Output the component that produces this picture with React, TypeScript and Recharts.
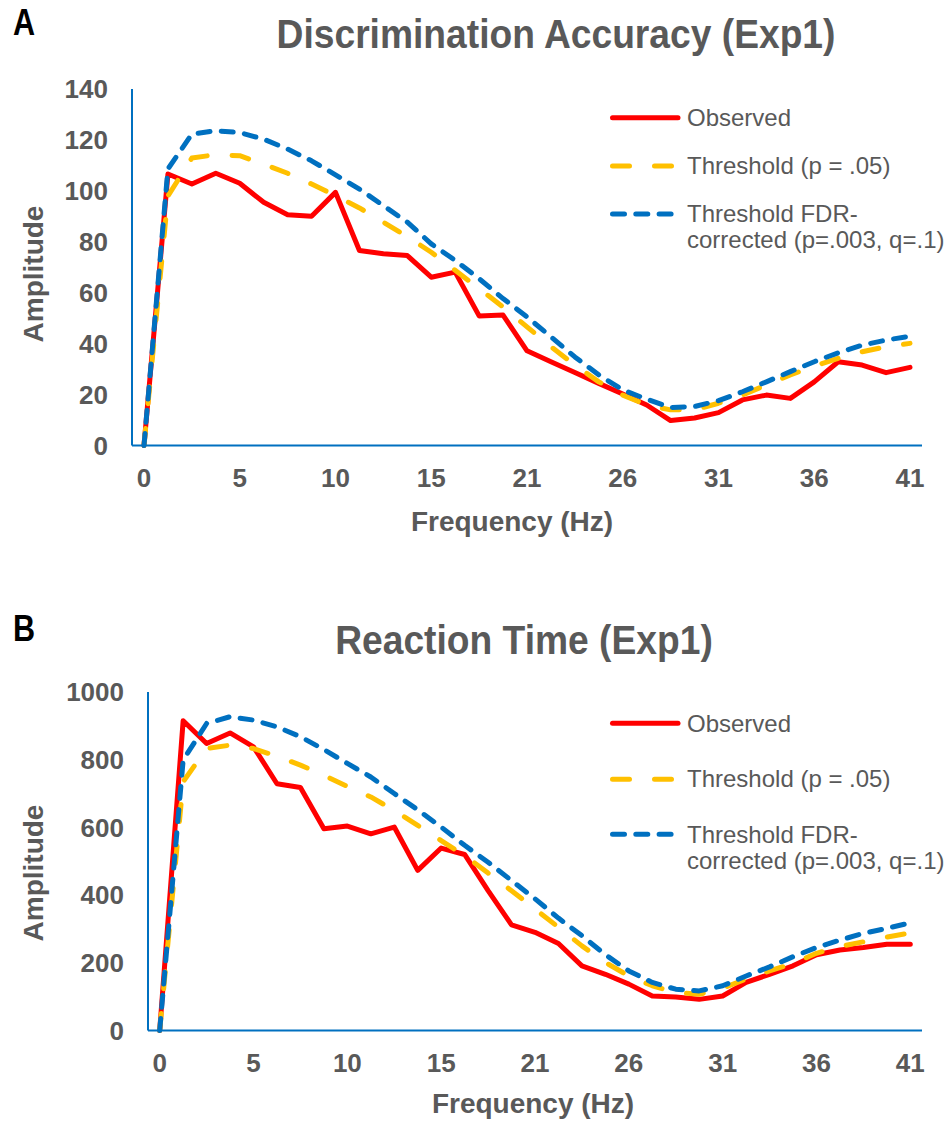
import { LineChart, Line, XAxis, YAxis, Legend } from 'recharts';

// frequency (Hz) of each spectral bin, rounded as on the axis
const hz = [0, 1, 3, 4, 5, 6, 8, 9, 10, 12, 13, 14, 15, 17, 18, 19, 21, 22, 23, 24, 26, 27, 28, 29, 31, 32, 33, 35, 36, 37, 38, 40, 41];

// panel A: discrimination accuracy
const accObserved = [0, 106.6, 102.7, 106.9, 103, 95.5, 90.6, 90.0, 99.4, 76.6, 75.3, 74.6, 66.1, 68.1, 50.9, 51.2, 37.2, 32.9, 28.7, 24.4, 20.2, 15.9, 9.8, 10.8, 12.9, 17.9, 19.8, 18.5, 25, 32.9, 31.6, 28.6, 30.7];
const accThreshold = [0, 98, 112.9, 114.2, 113.8, 110.5, 106.9, 102.7, 98.1, 93.3, 87.7, 82, 75.9, 68.8, 61.6, 54.4, 46.6, 38.8, 31.6, 25, 19.8, 15.9, 14, 14, 16.6, 19.8, 23.8, 27.7, 31.2, 34.2, 36.8, 38.8, 40.1];
const accFdr = [0, 108.6, 122.3, 123.6, 122.9, 120.3, 116.4, 111.8, 106.3, 100.7, 94.2, 87.7, 79.2, 72.7, 65.5, 57.7, 50.5, 42.7, 34.8, 27.7, 21.8, 18.2, 14.9, 15.3, 17.6, 21.1, 25, 29, 32.9, 36.4, 39.4, 41.4, 42.9];
const accTicks = [0, 20, 40, 60, 80, 100, 120, 140];

// panel B: reaction time
const rtObserved = [0, 915, 848, 879, 838, 729, 718, 596, 604, 581, 601, 473, 539, 520, 413, 312, 290, 257, 191, 166, 137, 102, 99, 92, 102, 142, 166, 191, 224, 238, 245, 255, 255];
const rtThreshold = [0, 735, 833, 843, 833, 810, 784, 754, 721, 690, 650, 606, 561, 517, 465, 413, 359, 305, 250, 201, 161, 132, 112, 107, 125, 152, 176, 198, 228, 248, 262, 276, 288];
const rtFdr = [0, 799, 907, 927, 917, 897, 868, 830, 789, 749, 700, 652, 601, 547, 497, 443, 389, 332, 280, 224, 176, 142, 122, 117, 132, 161, 188, 218, 245, 267, 287, 302, 318];
const rtTicks = [0, 200, 400, 600, 800, 1000];

const seriesNames = ['Observed', 'Threshold (p = .05)', 'Threshold FDR-', 'corrected (p=.003, q=.1)'];

const GREY = '#595959';
const AXIS = '#0070C0';
const RED = '#FF0000';
const GOLD = '#FFC000';
const BLUE = '#0070C0';
const FONT = '"Liberation Sans", Arial, sans-serif';
const LONG_DASH = '17 25';
const SHORT_DASH = '12 11.3';

const buildRows = (obs: number[], thr: number[], fdr: number[]) =>
  hz.map((h, i) => ({ hz: h, observed: obs[i], threshold: thr[i], fdr: fdr[i] }));

type LegendPos = { lines: number[]; baselines: number[] };

function LegendBox({ pos, height }: { pos: LegendPos; height: number }) {
  const x1 = 612.5;
  const x2 = 678;
  return (
    <svg width={948} height={height} style={{ position: 'absolute', left: 0, top: 0 }}>
      <line x1={x1} x2={x2} y1={pos.lines[0]} y2={pos.lines[0]} stroke={RED} strokeWidth={5} strokeLinecap="round" />
      <line x1={x1} x2={672} y1={pos.lines[1]} y2={pos.lines[1]} stroke={GOLD} strokeWidth={5} strokeLinecap="round" strokeDasharray={LONG_DASH} />
      <line x1={x1} x2={x2} y1={pos.lines[2]} y2={pos.lines[2]} stroke={BLUE} strokeWidth={5} strokeLinecap="round" strokeDasharray={SHORT_DASH} />
      {seriesNames.map((name, i) => (
        <text key={name} x={687} y={pos.baselines[i]} fontSize={24} fill={GREY} fontFamily={FONT}>
          {name}
        </text>
      ))}
    </svg>
  );
}

type PanelProps = {
  top: number;
  height: number;
  rows: ReturnType<typeof buildRows>;
  yMax: number;
  ticks: number[];
  yAxisWidth: number;
  marginTop: number;
  marginBottom: number;
  pad: number;
  legend: LegendPos;
};

function Panel(p: PanelProps) {
  const tickStyle = { fontSize: 26, fontWeight: 700, fill: GREY, fontFamily: FONT };
  return (
    <div style={{ position: 'absolute', left: 0, top: p.top }}>
      <LineChart width={948} height={p.height} data={p.rows}
        margin={{ top: p.marginTop, right: 26, bottom: p.marginBottom, left: 0 }}>
        <XAxis dataKey="hz" type="category" interval={3} height={60}
          axisLine={{ stroke: AXIS, strokeWidth: 2 }} tickLine={false} tickSize={6} tickMargin={17}
          tick={tickStyle} padding={{ left: p.pad, right: p.pad }} />
        <YAxis domain={[0, p.yMax]} ticks={p.ticks} width={p.yAxisWidth} interval={0}
          axisLine={{ stroke: AXIS, strokeWidth: 2 }} tickLine={false} tickSize={6} tickMargin={18}
          tick={tickStyle} />
        <Legend layout="horizontal" verticalAlign="middle" align="center"
          wrapperStyle={{ left: 0, top: 0, width: 948, height: p.height }}
          content={() => <LegendBox pos={p.legend} height={p.height} />} />
        <Line dataKey="observed" name={seriesNames[0]} type="linear" stroke={RED} strokeWidth={5}
          strokeLinejoin="round" strokeLinecap="round" dot={false} isAnimationActive={false} />
        <Line dataKey="threshold" name={seriesNames[1]} type="linear" stroke={GOLD} strokeWidth={5}
          strokeDasharray={LONG_DASH} strokeLinejoin="round" strokeLinecap="round" dot={false} isAnimationActive={false} />
        <Line dataKey="fdr" name="Threshold FDR-corrected (p=.003, q=.1)" type="linear" stroke={BLUE} strokeWidth={5}
          strokeDasharray={SHORT_DASH} strokeLinejoin="round" strokeLinecap="round" dot={false} isAnimationActive={false} />
      </LineChart>
    </div>
  );
}

function Label({ text, x, y, size, color = GREY, rotate = 0, squeeze = 1 }:
  { text: string; x: number; y: number; size: number; color?: string; rotate?: number; squeeze?: number }) {
  return (
    <div style={{
      position: 'absolute', left: x, top: y, whiteSpace: 'nowrap', lineHeight: 1,
      fontFamily: FONT, fontWeight: 700, fontSize: size, color,
      transform: `translate(-50%, -50%) rotate(${rotate}deg) scaleX(${squeeze})`,
    }}>{text}</div>
  );
}

export default function App() {
  return (
    <div style={{ position: 'absolute', left: 0, top: 0, width: 948, height: 1124, background: '#fff', overflow: 'hidden' }}>
      <Panel top={0} height={560} rows={buildRows(accObserved, accThreshold, accFdr)} yMax={140} ticks={accTicks}
        yAxisWidth={132} marginTop={89} marginBottom={54.5} pad={12}
        legend={{ lines: [117.7, 166, 214], baselines: [125.5, 174.3, 221.7, 248] }} />
      <Panel top={560} height={564} rows={buildRows(rtObserved, rtThreshold, rtFdr)} yMax={1000} ticks={rtTicks}
        yAxisWidth={148} marginTop={132} marginBottom={33.5} pad={11.7}
        legend={{ lines: [163.3, 219.3, 274.3], baselines: [171.7, 227.3, 283.3, 309.3] }} />

      <Label text="A" x={24} y={23} size={36} color="#000" squeeze={0.85} />
      <Label text="Discrimination Accuracy (Exp1)" x={555.5} y={34} size={40} squeeze={0.93} />
      <Label text="Frequency (Hz)" x={512} y={522} size={28} />
      <Label text="Amplitude" x={34} y={274} size={28} rotate={-90} />

      <Label text="B" x={24} y={629} size={36} color="#000" squeeze={0.85} />
      <Label text="Reaction Time (Exp1)" x={523.5} y={640} size={40} squeeze={0.93} />
      <Label text="Frequency (Hz)" x={533} y={1104} size={28} />
      <Label text="Amplitude" x={34} y={873} size={28} rotate={-90} />
    </div>
  );
}
